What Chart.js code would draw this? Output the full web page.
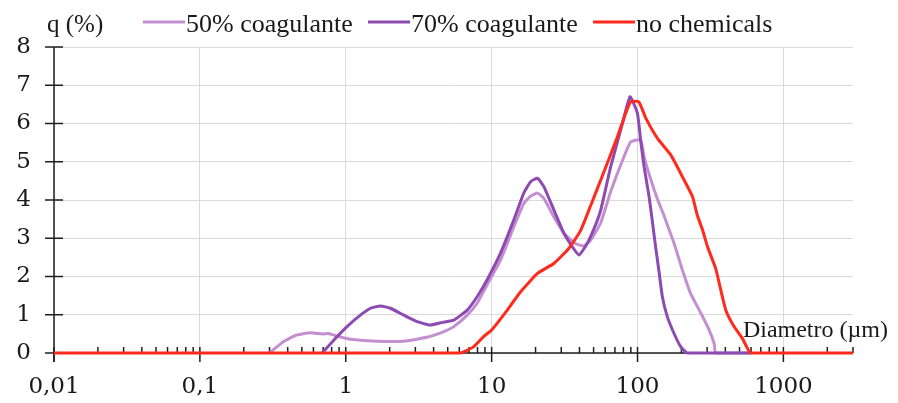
<!DOCTYPE html>
<html>
<head>
<meta charset="utf-8">
<script src="https://cdn.jsdelivr.net/npm/chart.js@4.4.1/dist/chart.umd.min.js"></script>
<style>
  html, body { margin: 0; padding: 0; background: #fff; }
  #chart { display: block; }
</style>
</head>
<body>
<canvas id="chart" width="898" height="403"></canvas>
<script>
// particle size distributions, diameter in µm vs q in %
const diam50 = [0.3, 0.375, 0.46, 0.57, 0.69, 0.76, 0.89, 1.08, 1.64, 2.5, 3.6, 4.7, 5.5, 6.8, 7.95, 9.3, 11.5, 14.2, 16.6, 18.5, 20.6, 22.8, 26.7, 31.3, 37.2, 42.6, 47.7, 55.9, 65.5, 77.5, 89.8, 105, 111, 123, 137, 151, 160, 178, 203, 231, 272, 310, 335, 344, 600];
const q50 = [0, 0.3, 0.47, 0.53, 0.5, 0.51, 0.43, 0.36, 0.31, 0.31, 0.41, 0.56, 0.69, 0.99, 1.3, 1.78, 2.43, 3.3, 3.91, 4.1, 4.18, 4.04, 3.56, 3.13, 2.87, 2.8, 2.95, 3.4, 4.22, 4.96, 5.52, 5.57, 5.13, 4.55, 4.02, 3.62, 3.35, 2.87, 2.17, 1.56, 1.04, 0.6, 0.25, 0, 0];

const diam70 = [0.69, 0.83, 1.02, 1.26, 1.48, 1.73, 2.02, 2.5, 3.09, 3.8, 4.6, 5.5, 6.8, 7.95, 9.3, 11.5, 14.2, 16.6, 18.5, 20.6, 22.8, 26.7, 31.3, 35.7, 39.7, 45.3, 51.6, 56, 65.5, 78.8, 88.8, 99.8, 105, 111, 120, 126, 133, 141, 148, 160, 178, 198, 220, 600];
const q70 = [0, 0.34, 0.69, 0.99, 1.17, 1.23, 1.17, 0.99, 0.82, 0.73, 0.8, 0.86, 1.12, 1.47, 1.91, 2.61, 3.48, 4.18, 4.48, 4.57, 4.35, 3.74, 3.13, 2.78, 2.56, 2.87, 3.35, 3.74, 4.87, 6.0, 6.7, 6.27, 5.57, 4.87, 4.09, 3.48, 2.78, 2.08, 1.47, 0.95, 0.51, 0.16, 0, 0];

const diamNone = [0.01, 6.1, 7.5, 8.8, 10, 12.8, 15.8, 20.6, 26.7, 33.9, 40.7, 47.7, 57, 72.8, 83, 90, 102, 114, 137, 169, 203, 238, 257, 279, 302, 344, 372, 403, 459, 524, 600, 3000];
const qNone = [0, 0, 0.16, 0.43, 0.6, 1.12, 1.6, 2.08, 2.34, 2.74, 3.2, 3.85, 4.6, 5.65, 6.27, 6.57, 6.57, 6.14, 5.61, 5.18, 4.61, 4.09, 3.6, 3.22, 2.78, 2.2, 1.65, 1.12, 0.69, 0.38, 0, 0];

const seriesNames = ['50% coagulante', '70% coagulante', 'no chemicals'];
const xTickValues = [0.01, 0.1, 1, 10, 100, 1000];
const yTickValues = [0, 1, 2, 3, 4, 5, 6, 7, 8];

const numFont = "'DejaVu Serif', serif";
const textFont = "'Liberation Serif', 'Times New Roman', serif";

function pairs(xs, ys) {
    return xs.map((x, i) => ({ x: x, y: ys[i] }));
}

function line(ctx, x1, y1, x2, y2) {
    ctx.beginPath();
    ctx.moveTo(x1, y1);
    ctx.lineTo(x2, y2);
    ctx.stroke();
}

// axis lines with crossing ticks, plus minor log ticks above the x axis
const axisPlugin = {
    id: 'axisLines',
    beforeDatasetsDraw(chart) {
        const ctx = chart.ctx;
        const xs = chart.scales.x, ys = chart.scales.y;
        const left = xs.getPixelForValue(0.01);
        const right = xs.getPixelForValue(3000);
        const bottom = ys.getPixelForValue(0);
        ctx.save();
        ctx.strokeStyle = '#1e1e1e';
        ctx.lineWidth = 1.5;
        line(ctx, left, ys.getPixelForValue(8), left, bottom + 9);
        yTickValues.forEach(v => {
            const py = ys.getPixelForValue(v);
            line(ctx, left - 9, py, left + 9, py);
        });
        line(ctx, left, bottom, right, bottom);
        xTickValues.forEach(v => {
            const px = xs.getPixelForValue(v);
            line(ctx, px, bottom - 6, px, bottom + 9);
        });
        for (let d = 0.01; d < 3000; d *= 10) {
            for (let k = 2; k <= 9; k++) {
                const v = d * k;
                if (v > 3000) break;
                const px = xs.getPixelForValue(v);
                line(ctx, px, bottom - 6, px, bottom);
            }
        }
        ctx.restore();
    },
    afterDraw(chart) {
        const ctx = chart.ctx;
        ctx.save();
        ctx.fillStyle = '#1a1a1a';
        ctx.textBaseline = 'middle';
        ctx.font = '25px ' + textFont;
        ctx.fillText('q (%)', 47, 25);

        // legend: short line sample followed by the series name
        const starts = [143, 368, 593];
        ctx.font = '26px ' + textFont;
        chart.data.datasets.forEach((ds, i) => {
            const x0 = starts[i];
            ctx.strokeStyle = ds.borderColor;
            ctx.lineWidth = 3;
            line(ctx, x0, 22, x0 + 42, 22);
            ctx.fillText(ds.label, x0 + 43, 25);
        });

        ctx.font = '24px ' + textFont;
        ctx.textAlign = 'right';
        ctx.fillText('Diametro (µm)', 888, 331);
        ctx.restore();
    }
};

const commonLine = {
    borderWidth: 3,
    pointRadius: 0,
    tension: 0.15,
    fill: false,
    clip: false
};

const chart = new Chart(document.getElementById('chart').getContext('2d'), {
    type: 'line',
    data: {
        datasets: [
            Object.assign({
                label: seriesNames[0],
                data: pairs(diam50, q50),
                borderColor: '#c48fd0',
                order: 2
            }, commonLine),
            Object.assign({
                label: seriesNames[1],
                data: pairs(diam70, q70),
                borderColor: '#8c4ab2',
                order: 1
            }, commonLine),
            Object.assign({
                label: seriesNames[2],
                data: pairs(diamNone, qNone),
                borderColor: '#ff2a1c',
                order: 0
            }, commonLine)
        ]
    },
    options: {
        responsive: false,
        animation: false,
        devicePixelRatio: 1,
        layout: {
            padding: { top: 47, right: 45, left: 0, bottom: 0 }
        },
        plugins: {
            legend: { display: false },
            tooltip: { enabled: false }
        },
        scales: {
            x: {
                type: 'logarithmic',
                min: 0.01,
                max: 3000,
                afterBuildTicks: scale => {
                    scale.ticks = xTickValues.map(v => ({ value: v }));
                },
                afterFit: scale => { scale.height = 50; },
                border: { display: false },
                grid: {
                    color: '#dadada',
                    lineWidth: 1,
                    drawTicks: false
                },
                ticks: {
                    autoSkip: false,
                    maxRotation: 0,
                    padding: 20,
                    color: '#1a1a1a',
                    font: { family: numFont, size: 23 },
                    callback: v => String(v).replace('.', ',')
                }
            },
            y: {
                min: 0,
                max: 8,
                afterFit: scale => { scale.width = 54; },
                border: { display: false },
                grid: {
                    color: '#dadada',
                    lineWidth: 1,
                    drawTicks: false
                },
                ticks: {
                    stepSize: 1,
                    padding: 23,
                    color: '#1a1a1a',
                    font: { family: numFont, size: 23 }
                }
            }
        }
    },
    plugins: [axisPlugin]
});
</script>
</body>
</html>
